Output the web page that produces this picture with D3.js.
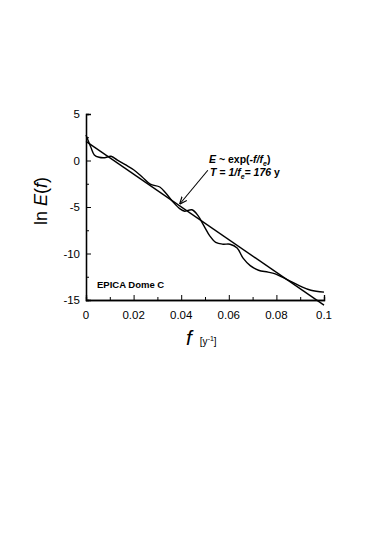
<!DOCTYPE html>
<html>
<head>
<meta charset="utf-8">
<script src="https://cdn.jsdelivr.net/npm/d3@7"></script>
<style>
  body { margin: 0; background: #fff; }
  text { font-family: "Liberation Sans", Arial, sans-serif; }
</style>
</head>
<body>
<div id="chart"></div>
<script>
// spectrum (smoothed)
const freq = [0, 0.002, 0.0035, 0.0055, 0.0078, 0.0105, 0.0132, 0.0165, 0.02, 0.0235,
  0.027, 0.031, 0.0335, 0.0367, 0.0395, 0.0415, 0.0445, 0.047, 0.0495, 0.052,
  0.0545, 0.0575, 0.0605, 0.0635, 0.066, 0.069, 0.0725, 0.0765, 0.0795, 0.0825,
  0.086, 0.09, 0.0945, 0.1]
const lnE = [2.75, 1.45, 0.6, 0.35, 0.3, 0.45, 0.05, -0.45, -1.0, -1.75,
  -2.55, -2.85, -3.5, -4.5, -5.2, -5.45, -5.3, -5.9, -7.0, -8.1,
  -8.8, -9.0, -9.0, -9.4, -10.5, -11.3, -11.8, -12.0, -12.2, -12.55,
  -13.0, -13.5, -13.95, -14.15]

// exponential fit, T = 176 y
const fitF = [0, 0.1]
const fitV = [2.05, -15.55]

const xTicks = [0, 0.02, 0.04, 0.06, 0.08, 0.1]
const xTickLabels = ['0', '0.02', '0.04', '0.06', '0.08', '0.1']
const yTicks = [5, 0, -5, -10, -15]

const width = 374
const height = 539
const margin = { top: 114, left: 86, right: 50, bottom: 239 }

const svg = d3
  .select('#chart')
  .append('svg')
  .attr('width', width)
  .attr('height', height)

const g = svg
  .append('g')
  .attr('transform', 'translate(' + margin.left + ',' + margin.top + ')')

const x = d3.scaleLinear().domain([0, 0.1]).range([0, 238])
const y = d3.scaleLinear().domain([-15, 5]).range([186, 0])

// axes with inward ticks
const xAxis = d3.axisTop(x).tickValues(xTicks).tickSize(5).tickFormat('')
const xMinor = d3.axisTop(x).tickValues([0.01, 0.03, 0.05, 0.07, 0.09]).tickSize(3).tickFormat('')
const yAxis = d3.axisRight(y).tickValues(yTicks).tickSize(5).tickFormat('')
const yMinor = d3.axisRight(y).tickValues([2.5, -2.5, -7.5, -12.5]).tickSize(3).tickFormat('')

g.append('g').attr('transform', 'translate(0,186)').call(xAxis)
g.append('g').attr('transform', 'translate(0,186)').call(xMinor)
g.append('g').call(yAxis)
g.append('g').call(yMinor)

g.selectAll('.domain').attr('stroke', '#000').attr('stroke-width', 1.3)
g.selectAll('.tick line').attr('stroke', '#000').attr('stroke-width', 1)

// tick labels
g.selectAll('.xlab')
  .data(xTicks)
  .enter()
  .append('text')
  .attr('x', d => x(d))
  .attr('y', 205)
  .attr('text-anchor', 'middle')
  .style('font-size', '11.5px')
  .text((d, i) => xTickLabels[i])

g.selectAll('.ylab')
  .data(yTicks)
  .enter()
  .append('text')
  .attr('x', -6)
  .attr('y', d => y(d) + 4)
  .attr('text-anchor', 'end')
  .style('font-size', '11.5px')
  .text(d => d)

const line = d3
  .line()
  .x(d => x(d[0]))
  .y(d => y(d[1]))

g.append('path')
  .attr('d', line(d3.zip(fitF, fitV)))
  .attr('fill', 'none')
  .attr('stroke', '#000')
  .attr('stroke-width', 1.4)

g.append('path')
  .attr('d', line.curve(d3.curveCatmullRom)(d3.zip(freq, lnE)))
  .attr('fill', 'none')
  .attr('stroke', '#000')
  .attr('stroke-width', 1.4)

// arrow
svg.append('defs').append('marker')
  .attr('id', 'arr')
  .attr('viewBox', '0 0 10 10')
  .attr('refX', 9).attr('refY', 5)
  .attr('markerWidth', 7).attr('markerHeight', 7)
  .attr('orient', 'auto')
  .append('path')
  .attr('d', 'M0,1 L10,5 L0,9')
  .attr('fill', 'none')
  .attr('stroke', '#000')
  .attr('stroke-width', 1.5)

g.append('line')
  .attr('x1', x(0.0512)).attr('y1', y(-1.05))
  .attr('x2', x(0.0395)).attr('y2', y(-4.65))
  .attr('stroke', '#000')
  .attr('stroke-width', 1.1)
  .attr('marker-end', 'url(#arr)')

// annotation
const ann = svg.append('text')
  .attr('x', 209).attr('y', 163)
  .style('font-size', '10.5px')
  .style('font-weight', 'bold')
ann.append('tspan').style('font-style', 'italic').text('E')
ann.append('tspan').text(' ~ exp(-')
ann.append('tspan').style('font-style', 'italic').text('f/f')
ann.append('tspan').attr('dy', 2.5).style('font-size', '7px').style('font-style', 'italic').text('e')
ann.append('tspan').attr('dy', -2.5).text(')')

const ann2 = svg.append('text')
  .attr('x', 210).attr('y', 176)
  .style('font-size', '10.5px')
  .style('font-weight', 'bold')
  .style('font-style', 'italic')
ann2.append('tspan').text('T = 1/f')
ann2.append('tspan').attr('dy', 2.5).style('font-size', '7px').text('e')
ann2.append('tspan').attr('dy', -2.5).text('= 176 ')
ann2.append('tspan').style('font-style', 'normal').text('y')

svg.append('text')
  .attr('x', 97).attr('y', 288)
  .style('font-size', '9.5px')
  .style('font-weight', 'bold')
  .text('EPICA Dome C')

// axis titles
const yt = svg.append('text')
  .attr('transform', 'translate(47,201) rotate(-90)')
  .attr('text-anchor', 'middle')
  .style('font-size', '18px')
yt.append('tspan').text('ln ')
yt.append('tspan').style('font-style', 'italic').text('E')
yt.append('tspan').text('(')
yt.append('tspan').style('font-style', 'italic').text('f')
yt.append('tspan').text(')')

const xt = svg.append('text')
  .attr('x', 186).attr('y', 345)
xt.append('tspan').style('font-size', '21px').style('font-style', 'italic').text('f')
xt.append('tspan').attr('dx', 8).style('font-size', '10px').text('[y')
xt.append('tspan').attr('dy', -4).style('font-size', '7px').text('-1')
xt.append('tspan').attr('dy', 4).style('font-size', '10px').text(']')
</script>
</body>
</html>
